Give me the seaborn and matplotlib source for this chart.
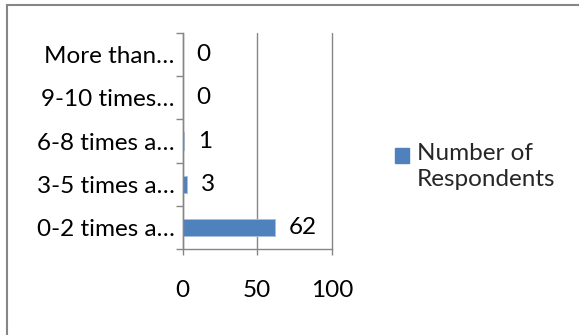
import matplotlib
matplotlib.use("Agg")
import matplotlib.pyplot as plt
from matplotlib.patches import Rectangle, Patch
from matplotlib.legend_handler import HandlerPatch
import seaborn as sns
import pandas as pd

# Frequency categories (top to bottom) and respondent counts
categories = ["More than…", "9-10 times…", "6-8 times a…", "3-5 times a…", "0-2 times a…"]
respondents = [0, 0, 1, 3, 62]
series_name = "Number of Respondents"
x_ticks = [0, 50, 100]

df = pd.DataFrame({"category": categories, "count": respondents})

sns.set_theme(style="white")
plt.rcParams["font.family"] = ["Lato", "DejaVu Sans"]

bar_color = "#4F81BD"
axis_gray = "#868686"
fs = 17.5

fig = plt.figure(figsize=(5.79, 3.35), dpi=100)
ax = fig.add_axes([0.3152, 0.2567, 0.2582, 0.6448])

sns.barplot(data=df, y="category", x="count", order=categories, orient="h",
            color=bar_color, width=0.4, edgecolor="#A7C0DE", linewidth=0.6,
            saturation=1, ax=ax)

ax.set_xlim(0, 100)
ax.set_ylim(len(categories) - 0.5, -0.5)
ax.set_xticks(x_ticks)
ax.set_xlabel("")
ax.set_ylabel("")

# vertical gridlines
ax.xaxis.grid(True, color=axis_gray, linewidth=1.0)
ax.set_axisbelow(True)
for gl in ax.get_xgridlines():
    gl.set_clip_on(False)

for side in ["top", "right"]:
    ax.spines[side].set_visible(False)
for side in ["left", "bottom"]:
    ax.spines[side].set_color(axis_gray)
    ax.spines[side].set_linewidth(1.0)

# category labels sit on minor ticks, boundary marks on major ticks
n = len(categories)
ax.set_yticks([i - 0.5 for i in range(n + 1)])
ax.set_yticklabels([""] * (n + 1))
ax.set_yticks(list(range(n)), minor=True)
ax.set_yticklabels(categories, minor=True)
ax.tick_params(axis="y", which="major", left=True, length=5, width=1.0, color=axis_gray)
ax.tick_params(axis="y", which="minor", left=False, length=0, pad=5.5, labelsize=fs,
               labelcolor="black")
ax.tick_params(axis="x", which="major", bottom=True, length=4.5, width=1.0, color=axis_gray,
               pad=18, labelsize=fs, labelcolor="black")

# value labels
for i, v in enumerate(respondents):
    ax.annotate(str(v), xy=(v, i), xytext=(10, 0), textcoords="offset points",
                ha="left", va="center", fontsize=fs, color="black", annotation_clip=False)


# legend key aligned with the first line of the wrapped label
def top_aligned_square(legend, orig_handle, xdescent, ydescent, width, height, fontsize):
    return Rectangle((-xdescent, -ydescent + 0.44 * fontsize), width, height)


handle = Patch(facecolor=bar_color, edgecolor=bar_color)
leg = fig.legend([handle], ["Number of\nRespondents"], loc="center left",
                 bbox_to_anchor=(0.682, 0.503), frameon=False, fontsize=fs,
                 handlelength=0.6, handleheight=0.6, handletextpad=0.3,
                 borderpad=0, borderaxespad=0,
                 handler_map={Patch: HandlerPatch(patch_func=top_aligned_square)})
for t in leg.get_texts():
    t.set_linespacing(1.3)

# chart frame
fig.patches.append(Rectangle((7 / 579, -0.1), 1.2, 1 - 5 / 335 + 0.1,
                             transform=fig.transFigure, fill=False,
                             edgecolor=axis_gray, linewidth=1.5))

fig.savefig("out.png", dpi=100)
